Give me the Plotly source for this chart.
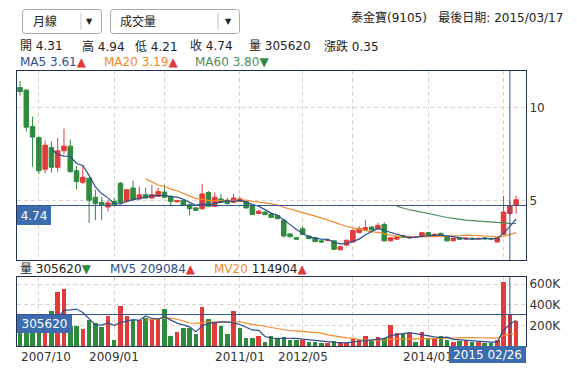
import numpy as np
import pandas as pd
import plotly.graph_objects as go

# ---------------- data (monthly bars) ----------------
opens = [11.08, 10.94, 8.99, 8.39, 6.69, 7.86, 6.79, 7.68, 7.93, 6.61,
         5.99, 6.21, 5.18, 4.91, 4.66, 4.96, 5.94, 4.96, 5.68, 5.09,
         5.32, 5.14, 5.23, 5.46, 5.23, 4.94, 5.02, 4.79, 4.61, 4.57,
         5.44, 4.70, 5.09, 5.02, 4.91, 4.96, 4.96, 4.75, 4.31, 4.38,
         4.28, 4.20, 3.95, 3.21, 3.01, 3.49, 3.10, 3.01, 2.84, 2.86,
         2.84, 2.36, 2.61, 2.78, 3.28, 3.45, 3.58, 3.49, 3.72, 2.84,
         2.93, 3.12, 3.00, 3.02, 3.07, 3.28, 3.12, 3.24, 3.05, 2.84,
         2.98, 2.93, 2.98, 2.94, 3.00, 2.97, 2.78, 3.19, 4.31, 4.75]
highs = [11.44, 11.00, 9.52, 8.45, 8.24, 8.19, 8.37, 8.87, 8.28, 6.86,
         6.91, 6.25, 5.59, 5.20, 5.05, 5.14, 6.00, 5.62, 6.08, 5.76,
         5.68, 5.85, 5.68, 5.85, 5.30, 5.05, 5.08, 4.85, 4.66, 5.90,
         5.52, 5.45, 5.36, 5.15, 5.36, 5.23, 5.00, 4.78, 4.50, 4.45,
         4.33, 4.24, 4.02, 3.25, 3.05, 3.63, 3.15, 3.05, 2.88, 2.92,
         2.88, 2.56, 2.90, 3.45, 3.63, 3.95, 3.63, 3.81, 3.84, 3.05,
         3.10, 3.16, 3.12, 3.10, 3.32, 3.32, 3.24, 3.28, 3.08, 3.01,
         3.02, 3.05, 3.02, 3.00, 3.04, 2.99, 3.05, 5.25, 4.94, 5.27]
lows = [10.64, 8.72, 6.82, 6.44, 6.47, 6.50, 6.55, 7.50, 6.50, 5.62,
        5.90, 3.81, 3.95, 3.95, 4.43, 4.70, 4.80, 4.90, 5.00, 5.05,
        5.10, 5.10, 5.20, 5.15, 4.70, 4.90, 4.72, 4.20, 4.45, 4.50,
        4.65, 4.65, 4.88, 4.80, 4.88, 4.92, 4.58, 4.22, 4.28, 4.22,
        4.08, 4.00, 3.01, 3.00, 2.90, 3.15, 2.93, 2.77, 2.74, 2.82,
        2.33, 2.33, 2.58, 2.75, 3.25, 3.36, 3.40, 3.46, 2.80, 2.80,
        2.90, 3.00, 2.97, 3.00, 3.05, 3.10, 3.10, 3.04, 2.80, 2.82,
        2.90, 2.91, 2.92, 2.92, 2.88, 2.88, 2.76, 3.15, 4.21, 4.30]
closes = [10.87, 8.95, 8.42, 6.61, 7.98, 6.79, 7.68, 7.93, 6.56, 6.03,
          6.26, 5.02, 4.84, 4.75, 4.88, 4.75, 4.88, 5.59, 5.05, 5.32,
          5.14, 5.32, 5.49, 5.18, 4.96, 5.00, 4.75, 4.57, 4.48, 5.36,
          4.70, 5.18, 4.91, 4.84, 5.14, 5.09, 4.61, 4.26, 4.43, 4.26,
          4.10, 4.03, 3.10, 3.07, 2.93, 3.19, 2.96, 2.80, 2.78, 2.88,
          2.39, 2.52, 2.87, 3.40, 3.49, 3.55, 3.42, 3.67, 2.84, 3.01,
          3.05, 3.03, 3.07, 3.05, 3.28, 3.14, 3.19, 3.07, 2.84, 2.98,
          2.93, 2.98, 2.95, 2.97, 2.96, 2.94, 3.01, 4.39, 4.74, 5.05]
volumes = [160000, 150000, 140000, 170000, 150000, 337000, 525000, 551000, 190000, 190000,
           168000, 249000, 226000, 184000, 291000, 54000, 385000, 291000, 256000, 256000,
           271000, 264000, 264000, 356000, 93000, 135000, 174000, 174000, 112000, 379000,
           258000, 226000, 193000, 112000, 337000, 174000, 76000, 80000, 93000, 37000,
           93000, 75000, 85000, 57000, 59000, 60000, 37000, 40000, 27000, 27000,
           44000, 27000, 27000, 70000, 57000, 93000, 45000, 83000, 80000, 200000,
           130000, 112000, 125000, 37000, 140000, 70000, 70000, 93000, 54000, 37000,
           48000, 59000, 37000, 37000, 27000, 30000, 54000, 625000, 305620, 242000]

x_label_index = [3, 15, 35, 45, 65]
x_label_text = ["2007/10", "2009/01", "2011/01", "2012/05", "2014/01"]
x_grid_index = [3, 15, 23, 35, 45, 53, 65, 77]
price_ticks = [5, 10]
volume_ticks = [200000, 400000, 600000]
volume_tick_text = ["200K", "400K", "600K"]
cursor_index = 78
cursor_date = "2015 02/26"
stock_title = "泰金寶(9105)   最後日期: 2015/03/17"
ma_legend_values = ["3.61", "3.19", "3.80"]
mv_legend_values = ["209084", "114904"]
change_value = 0.35

# ---------------- styling ----------------
W, H = 577, 371
L, R, T, B = 17, 526, 71, 346
RED = "#e23b3b"
GREEN = "#2f8a3e"
C_MA5 = "#2d4e8e"
C_MA20 = "#f08a2c"
C_MA60 = "#4e8e5e"
CROSS = "#34568c"
BOXBLUE = "#3c6cae"
FRAME = "#22324e"
GRID = "#ddd3ca"
TXT = "#333333"
FONT = "DejaVu Sans, Noto Sans CJK TC, sans-serif"


def px2x(px):
    return (px - L) / (R - L)


def py2y(py):
    return (B - py) / (B - T)


n = len(closes)
idx = np.arange(n)
cs = pd.Series(closes, dtype=float)
vs = pd.Series(volumes, dtype=float)


def mavg(s, p):
    m = s.rolling(p).mean()
    m.iloc[:p] = np.nan
    return m


ma5, ma20, ma60 = mavg(cs, 5), mavg(cs, 20), mavg(cs, 60)
mv5, mv20 = mavg(vs, 5), mavg(vs, 20)

vcolors = [GREEN if (i == 0 or closes[i] < closes[i - 1]) else RED for i in range(n)]

fig = go.Figure()
fig.add_trace(go.Candlestick(
    x=idx, open=opens, high=highs, low=lows, close=closes,
    increasing=dict(line=dict(color=RED, width=1), fillcolor=RED),
    decreasing=dict(line=dict(color=GREEN, width=1), fillcolor=GREEN),
    whiskerwidth=0, xaxis="x", yaxis="y", hoverinfo="skip", showlegend=False))
for s, col in [(ma60, C_MA60), (ma20, C_MA20), (ma5, C_MA5)]:
    fig.add_trace(go.Scatter(x=idx, y=s, mode="lines", line=dict(color=col, width=1.2),
                             xaxis="x", yaxis="y", hoverinfo="skip", showlegend=False))
fig.add_trace(go.Bar(x=idx, y=volumes, marker=dict(color=vcolors, line=dict(width=0)),
                     width=0.72, xaxis="x2", yaxis="y2", hoverinfo="skip", showlegend=False))
for s, col in [(mv20, C_MA20), (mv5, C_MA5)]:
    fig.add_trace(go.Scatter(x=idx, y=s, mode="lines", line=dict(color=col, width=1.2),
                             xaxis="x2", yaxis="y2", hoverinfo="skip", showlegend=False))

xr = [-0.48, 80.57]
axis_common = dict(showline=True, mirror=True, linecolor=FRAME, linewidth=1,
                   zeroline=False, gridcolor=GRID, griddash="4px,3px", gridwidth=1,
                   ticks="", fixedrange=True)
price_dom = [py2y(260), 1]
vol_dom = [0, py2y(277)]

fig.update_layout(
    width=W, height=H, margin=dict(l=L, r=W - R, t=T, b=H - B),
    paper_bgcolor="white", plot_bgcolor="white",
    boxgap=0.15, boxgroupgap=0.15, bargap=0,
    font=dict(family=FONT, size=12, color=TXT),
    xaxis=dict(domain=[0, 1], range=xr, anchor="y", tickmode="array", tickvals=x_grid_index,
               showticklabels=False, rangeslider=dict(visible=False), showgrid=True, **axis_common),
    yaxis=dict(domain=price_dom, range=[1.81, 11.97], anchor="x", side="right",
               tickmode="array", tickvals=price_ticks, ticktext=[str(t) for t in price_ticks],
               showgrid=True, tickfont=dict(size=12, color=TXT), **axis_common),
    xaxis2=dict(domain=[0, 1], range=xr, anchor="y2", tickmode="array", tickvals=x_grid_index,
                showticklabels=False, showgrid=True, **axis_common),
    yaxis2=dict(domain=vol_dom, range=[0, 670000], anchor="x2", side="right",
                tickmode="array", tickvals=volume_ticks, ticktext=volume_tick_text,
                showgrid=True, tickfont=dict(size=12, color=TXT), **axis_common),
)

shapes = []
# crosshair
shapes.append(dict(type="line", xref="x", yref="y domain", x0=cursor_index, x1=cursor_index, y0=0, y1=1,
                   line=dict(color=CROSS, width=1)))
shapes.append(dict(type="line", xref="x2", yref="y2 domain", x0=cursor_index, x1=cursor_index, y0=0, y1=1,
                   line=dict(color=CROSS, width=1)))
shapes.append(dict(type="line", xref="x domain", yref="y", x0=0, x1=1,
                   y0=closes[cursor_index], y1=closes[cursor_index], line=dict(color=CROSS, width=1)))
shapes.append(dict(type="line", xref="x2 domain", yref="y2", x0=0, x1=1,
                   y0=volumes[cursor_index], y1=volumes[cursor_index], line=dict(color=CROSS, width=1)))


def rrect(x0, y0, x1, y1, r=3):
    pts = [("M", x0 + r, y0), ("L", x1 - r, y0), ("Q", x1, y0, x1, y0 + r), ("L", x1, y1 - r),
           ("Q", x1, y1, x1 - r, y1), ("L", x0 + r, y1), ("Q", x0, y1, x0, y1 - r),
           ("L", x0, y0 + r), ("Q", x0, y0, x0 + r, y0)]
    out = []
    for p in pts:
        cmd = p[0]
        coords = p[1:]
        s = []
        for k in range(0, len(coords), 2):
            s.append(f"{px2x(coords[k]):.5f},{py2y(coords[k + 1]):.5f}")
        out.append(cmd + " ".join(s))
    return " ".join(out) + " Z"


for (bx0, bx1, div) in [(22.5, 101.5, 81), (110.5, 239.5, 218)]:
    shapes.append(dict(type="path", xref="paper", yref="paper", path=rrect(bx0, 9.5, bx1, 33.5),
                       line=dict(color="#a9a9a9", width=1), fillcolor="white"))
    shapes.append(dict(type="line", xref="paper", yref="paper", x0=px2x(div), x1=px2x(div),
                       y0=py2y(13), y1=py2y(30), line=dict(color="#c4c4c4", width=1)))
fig.update_layout(shapes=shapes)

ann = []


def text(x, y, s, anchor="left", size=12, color=TXT, **kw):
    d = dict(xref="paper", yref="paper", x=px2x(x), y=py2y(y), xanchor=anchor, yanchor="middle",
             text=s, showarrow=False, font=dict(family=FONT, size=size, color=color))
    d.update(kw)
    ann.append(d)


# dropdown texts
text(31, 22, "月線", size=12, color="#222")
text(89, 22, "▼", anchor="center", size=8, color="#222")
text(118, 22, "成交量", size=12, color="#222")
text(228, 22, "▼", anchor="center", size=8, color="#222")
# title
text(565, 17, stock_title, anchor="right", color="#222")
# OHLC row
ci = cursor_index
row = [("開", f"{opens[ci]:.2f}", 18), ("高", f"{highs[ci]:.2f}", 80), ("低", f"{lows[ci]:.2f}", 132.5),
       ("收", f"{closes[ci]:.2f}", 188), ("量", f"{volumes[ci]}", 246.5), ("漲跌", f"{change_value:.2f}", 322)]
for lab, val, x in row:
    text(x, 46, f"{lab} {val}", color="#222")
UP = f"<span style='color:{RED}'>▲</span>"
DN = f"<span style='color:{GREEN}'>▼</span>"
text(18, 62, f"<span style='color:{C_MA5}'>MA5 {ma_legend_values[0]}</span>{UP}")
text(102, 62, f"<span style='color:{C_MA20}'>MA20 {ma_legend_values[1]}</span>{UP}")
text(193, 62, f"<span style='color:{C_MA60}'>MA60 {ma_legend_values[2]}</span>{DN}")
text(18, 269, f"量 {volumes[ci]}{DN}", color="#222")
text(108, 269, f"<span style='color:{C_MA5}'>MV5 {mv_legend_values[0]}</span>{UP}")
text(212, 269, f"<span style='color:{C_MA20}'>MV20</span> {mv_legend_values[1]}{UP}", color="#222")

# x labels
for k, (i, lab) in enumerate(zip(x_label_index, x_label_text)):
    if k == 0:
        ann.append(dict(xref="paper", yref="paper", x=px2x(19), y=0, xanchor="left", yanchor="top",
                        text=lab, showarrow=False, height=18, font=dict(family=FONT, size=12, color=TXT)))
    else:
        ann.append(dict(xref="x2", yref="paper", x=i, y=0, xanchor="center", yanchor="top",
                        text=lab, showarrow=False, height=18, font=dict(family=FONT, size=12, color=TXT)))

# value boxes
ann.append(dict(xref="paper", yref="y", x=0, y=closes[ci], xanchor="left", yanchor="top",
                text=f"{closes[ci]:.2f}", showarrow=False, bgcolor=BOXBLUE, borderpad=0, borderwidth=0,
                width=34, height=19, font=dict(family=FONT, size=12, color="white")))
ann.append(dict(xref="paper", yref="y2", x=0, y=volumes[ci], xanchor="left", yanchor="top",
                text=f"{volumes[ci]}", showarrow=False, bgcolor=BOXBLUE, borderpad=0, borderwidth=0,
                width=55, height=18, font=dict(family=FONT, size=12, color="white")))
ann.append(dict(xref="paper", yref="paper", x=1, y=0, xanchor="right", yanchor="top",
                text=cursor_date, showarrow=False, bgcolor=BOXBLUE, borderpad=0, borderwidth=0,
                width=77, height=17, font=dict(family=FONT, size=12, color="white")))

fig.update_layout(annotations=ann)
fig.write_html("out.html", config={"displayModeBar": False},
               post_script="document.body.style.margin='0';document.body.style.overflow='hidden';")
